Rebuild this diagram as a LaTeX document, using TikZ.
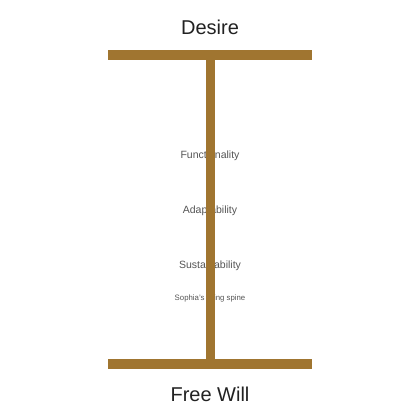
\documentclass[tikz,border=0pt]{standalone}
\usepackage{fontspec}
\setmainfont{Liberation Sans}
\definecolor{bar}{RGB}{160,117,48}
\definecolor{title}{RGB}{34,34,34}
\definecolor{lbl}{RGB}{85,85,85}
\begin{document}
\begin{tikzpicture}[x=1pt,y=-1pt,
  titletext/.style={text=title,font=\fontsize{20}{24}\selectfont,inner sep=0pt},
  labeltext/.style={text=lbl,font=\fontsize{10.5}{12}\selectfont,inner sep=0pt},
  smalltext/.style={text=lbl,font=\fontsize{7.8}{9}\selectfont,inner sep=0pt},
  barline/.style={draw=bar,line width=10pt},
  spineline/.style={draw=bar,line width=9pt}]
\useasboundingbox[fill=white] (0,0) rectangle (420,420);
\node[titletext] (desire) at (210,27.5) {Desire};
\node[titletext] (free) at (210,394.5) {Free Will};
\node[labeltext] (func) at (210,155.5) {Functionality};
\node[labeltext] (adapt) at (210,210.5) {Adaptability};
\node[labeltext] (sust) at (210,265.5) {Sustainability};
\node[smalltext] (spine) at (210,298.5) {Sophia's living spine};
\coordinate (tl) at (108,55);
\coordinate (tr) at (312,55);
\coordinate (bl) at (108,364);
\coordinate (br) at (312,364);
\coordinate (ttop) at (210,55);
\coordinate (tbot) at (210,364);
\draw[barline] (tl) -- (tr);
\draw[barline] (bl) -- (br);
\draw[spineline] (ttop) -- (tbot);
\end{tikzpicture}
\end{document}
